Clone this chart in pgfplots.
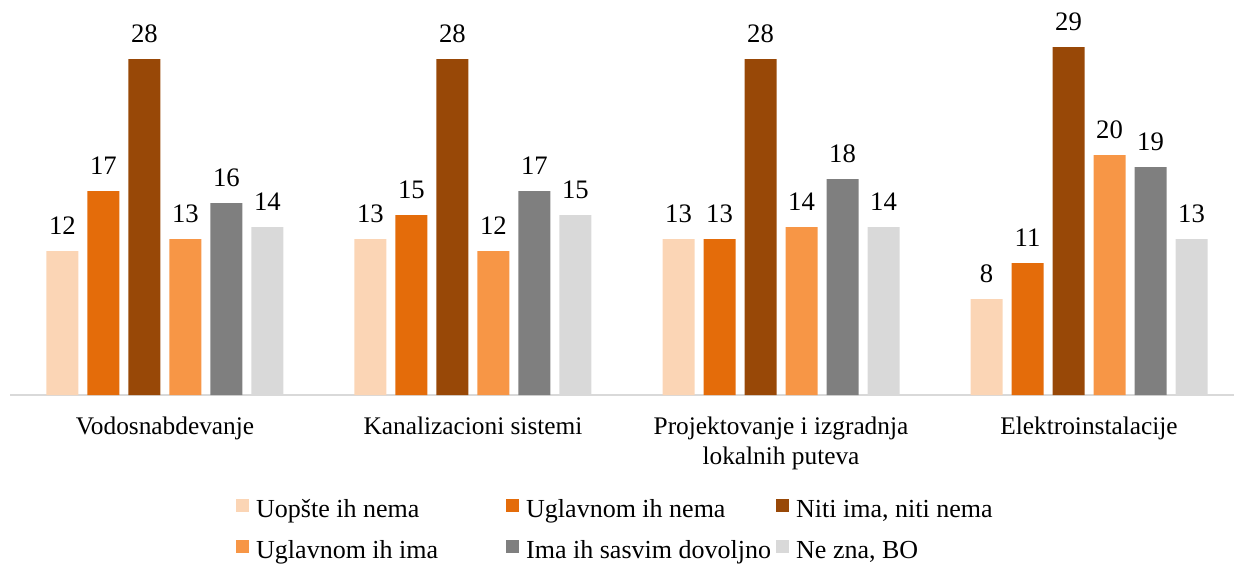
\documentclass[border=0pt]{standalone}
\usepackage{fontspec}
\setmainfont{Liberation Serif}
\usepackage{pgfplots}
\usepackage{pgfplotstable}
\pgfplotsset{compat=1.18}

\definecolor{cA}{HTML}{FBD5B5}
\definecolor{cB}{HTML}{E46C0A}
\definecolor{cC}{HTML}{984807}
\definecolor{cD}{HTML}{F79646}
\definecolor{cE}{HTML}{7F7F7F}
\definecolor{cF}{HTML}{D9D9D9}

% group, then the six answers
\pgfplotstableread{
x a b c d e f
0 12 17 28 13 16 14
1 13 15 28 12 17 15
2 13 13 28 14 18 14
3 8 11 29 20 19 13
}\datatable

\newcommand{\legbox}[1]{\makebox[187.5pt][l]{#1}}

\begin{document}
\begin{tikzpicture}
\useasboundingbox (0,0) rectangle (925.5pt,423.75pt);
\begin{axis}[
  at={(7.5pt,127.5pt)}, anchor=south west,
  scale only axis,
  width=918pt, height=296.25pt,
  ybar=6.75pt, bar width=24pt,
  xmin=-0.5032, xmax=3.4708,
  ymin=0, ymax=32.917,
  axis x line*=bottom, axis y line=none,
  axis line style={draw=cF, line width=1.5pt},
  xtick={0,1,2,3},
  xticklabels={Vodosnabdevanje, Kanalizacioni sistemi, {Projektovanje i izgradnja\\lokalnih puteva}, Elektroinstalacije},
  major tick length=0pt,
  xticklabel style={align=center, font=\fontsize{19}{23}\selectfont, inner sep=0pt, yshift=-16pt},
  ytick=\empty,
  clip=false,
  /pgf/number format/assume math mode=true,
  nodes near coords,
  every node near coord/.append style={font=\fontsize{20}{24}\selectfont, inner sep=0pt, yshift=12pt, black},
  legend columns=3,
  legend cell align=left,
  legend style={at={(0.1846,-0.258)}, anchor=north west, draw=none, inner sep=0pt,
    font=\fontsize{19.5}{24}\selectfont, row sep=11pt,
    nodes={inner sep=0pt, text height=15pt, text depth=5pt},
    /tikz/column 1/.style={column sep=5.25pt},
    /tikz/column 3/.style={column sep=5.25pt},
    /tikz/column 5/.style={column sep=5.25pt}},
  legend image code/.code={\fill[#1,draw=none] (0pt,-1pt) rectangle (9.75pt,8.75pt);},
]
\addplot[fill=cA, draw=none] table[x=x, y=a] {\datatable};
\addplot[fill=cB, draw=none] table[x=x, y=b] {\datatable};
\addplot[fill=cC, draw=none] table[x=x, y=c] {\datatable};
\addplot[fill=cD, draw=none] table[x=x, y=d] {\datatable};
\addplot[fill=cE, draw=none] table[x=x, y=e] {\datatable};
\addplot[fill=cF, draw=none] table[x=x, y=f] {\datatable};
\legend{\legbox{Uopšte ih nema}, \legbox{Uglavnom ih nema}, {Niti ima, niti nema}, \legbox{Uglavnom ih ima}, \legbox{Ima ih sasvim dovoljno}, {Ne zna, BO}}
\end{axis}
\end{tikzpicture}
\end{document}
